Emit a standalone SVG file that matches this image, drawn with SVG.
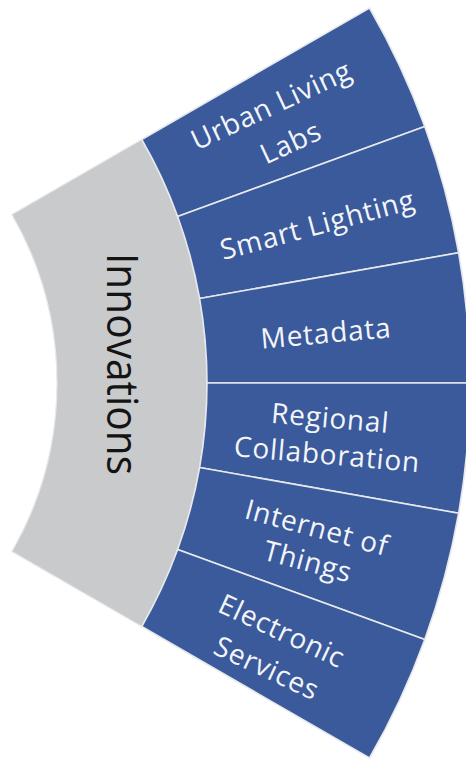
<svg xmlns="http://www.w3.org/2000/svg" width="466" height="760" viewBox="0 0 466 760">
<defs>
<style>
.seg{fill:#3A5A9B;stroke:#E6E8EC;stroke-width:1.6;stroke-linejoin:miter}
.hub{fill:#C9CACC;stroke:#E6E8EC;stroke-width:1.2}
.lbl{font-family:"Open Sans","Noto Sans","Liberation Sans",sans-serif;font-size:28px;fill:#F4F5F8;text-anchor:middle;letter-spacing:0.8px}
.hubtxt{font-family:"Open Sans","Noto Sans","Liberation Sans",sans-serif;font-weight:400;font-size:44px;fill:#141414;text-anchor:middle}
</style>
</defs>
<rect width="466" height="760" fill="#FFFFFF"/>
<g id="innovations">
<path class="hub" d="M11.85,214.5 L141.75,139.5 A487,487 0 0 1 141.75,626.5 L11.85,551.5 A337,337 0 0 0 11.85,214.5 Z"/>
<text class="hubtxt" transform="translate(107 364) rotate(90)" x="0" y="0" textLength="222" lengthAdjust="spacingAndGlyphs">Innovations</text>
</g>
<g id="urban-living-labs">
<path class="seg" d="M141.75,139.5 L369.52,8 A750,750 0 0 1 424.77,126.48 L177.63,216.44 A487,487 0 0 0 141.75,139.5 Z"/>
<g transform="translate(-280 383) rotate(-25)"><text class="lbl" x="617" y="-9">Urban Living</text><text class="lbl" x="619" y="33">Labs</text></g>
</g>
<g id="smart-lighting">
<path class="seg" d="M177.63,216.44 L424.77,126.48 A750,750 0 0 1 458.61,252.76 L199.6,298.43 A487,487 0 0 0 177.63,216.44 Z"/>
<g transform="translate(-280 383) rotate(-15)"><text class="lbl" x="618" y="11.5">Smart Lighting</text></g>
</g>
<g id="metadata">
<path class="seg" d="M199.6,298.43 L458.61,252.76 A750,750 0 0 1 470,383 L207,383 A487,487 0 0 0 199.6,298.43 Z"/>
<g transform="translate(-280 383) rotate(-5)"><text class="lbl" x="608" y="13">Metadata</text></g>
</g>
<g id="regional-collaboration">
<path class="seg" d="M207,383 L470,383 A750,750 0 0 1 458.61,513.24 L199.6,467.57 A487,487 0 0 0 207,383 Z"/>
<g transform="translate(-280 383) rotate(5)"><text class="lbl" x="611" y="-8.5">Regional</text><text class="lbl" x="611" y="28">Collaboration</text></g>
</g>
<g id="internet-of-things">
<path class="seg" d="M199.6,467.57 L458.61,513.24 A750,750 0 0 1 424.77,639.52 L177.63,549.56 A487,487 0 0 0 199.6,467.57 Z"/>
<g transform="translate(-280 383) rotate(15)"><text class="lbl" x="614" y="-5">Internet of</text><text class="lbl" x="614" y="30">Things</text></g>
</g>
<g id="electronic-services">
<path class="seg" d="M177.63,549.56 L424.77,639.52 A750,750 0 0 1 369.52,758 L141.75,626.5 A487,487 0 0 0 177.63,549.56 Z"/>
<g transform="translate(-280 383) rotate(25)"><text class="lbl" x="614" y="-3">Electronic</text><text class="lbl" x="616" y="37">Services</text></g>
</g>
<g id="connectors"></g>
</svg>
